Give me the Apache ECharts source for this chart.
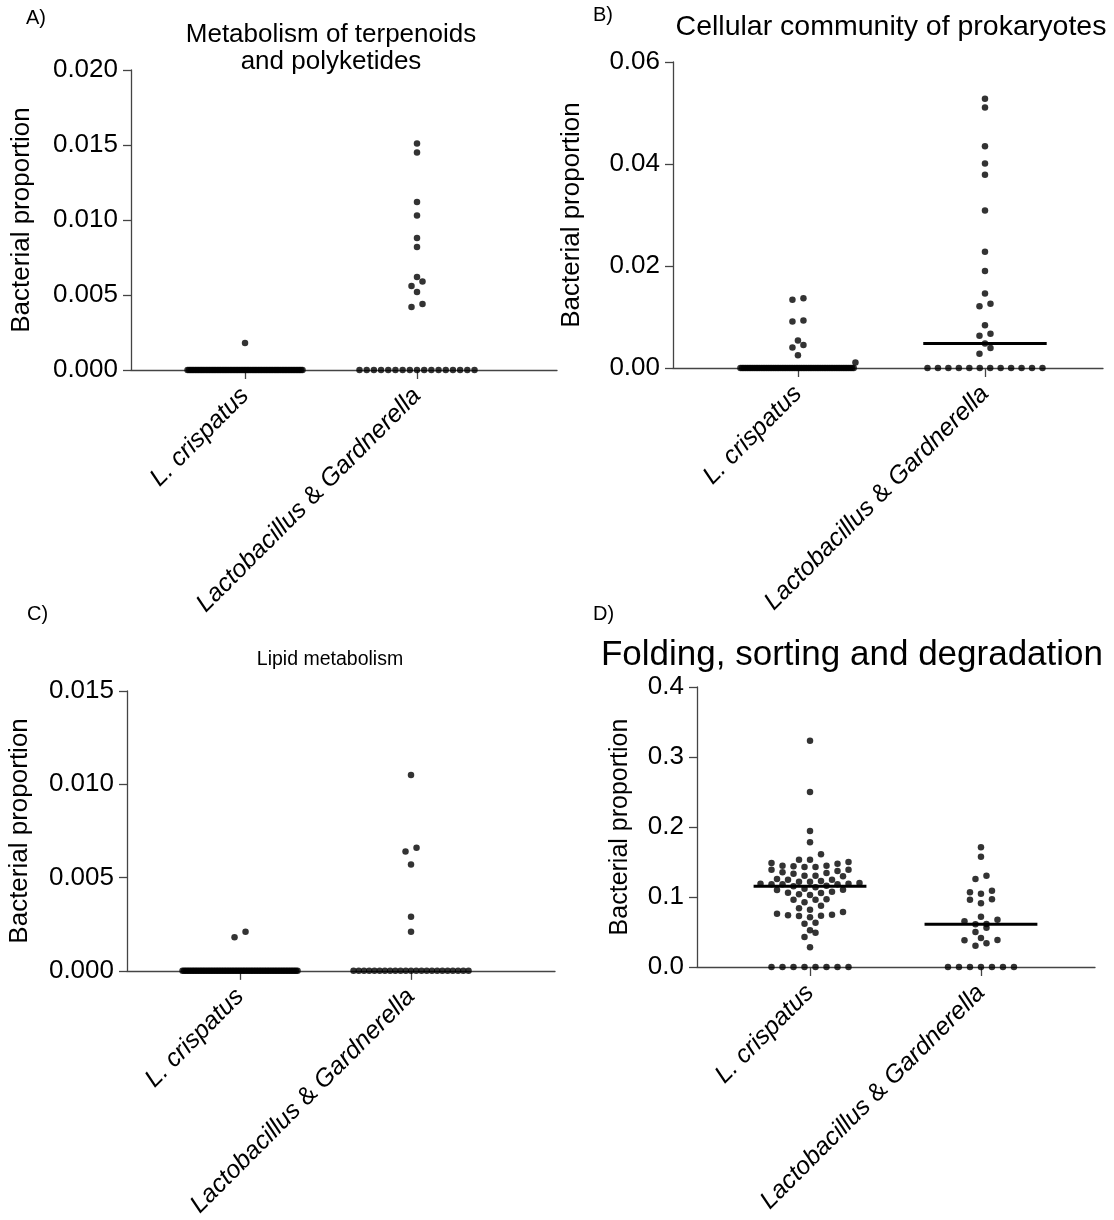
<!DOCTYPE html>
<html><head><meta charset="utf-8">
<script src="https://cdn.jsdelivr.net/npm/echarts@6/dist/echarts.min.js"></script>
<style>html,body{margin:0;padding:0;background:#fff}#c{width:1114px;height:1220px}</style>
</head><body><div id="c"></div>
<script>
// ---------------- DATA ----------------
const categories = ['L. crispatus', 'Lactobacillus & Gardnerella'];
const yAxisTitle = 'Bacterial proportion';
const panelLetters = ['A)', 'B)', 'C)', 'D)'];
const panelTitles = ['Metabolism of terpenoids\nand polyketides', 'Cellular community of prokaryotes', 'Lipid metabolism', 'Folding, sorting and degradation'];

// y axis scales (max, step, decimals of tick labels)
const yMaxes = [0.020, 0.06, 0.015, 0.4];
const ySteps = [0.005, 0.02, 0.005, 0.1];
const yDecimals = [3, 2, 3, 1];

// A) Metabolism of terpenoids and polyketides
const terpCrispatus = [0.0018,
  0,0,0,0,0,0,0,0,0,0, 0,0,0,0,0,0,0,0,0,0, 0,0,0,0,0,0,0,0,0,0, 0,0,0,0,0,0,0,0,0,0,
  0,0,0,0,0,0,0,0,0,0, 0,0,0,0,0,0,0,0,0,0, 0,0,0,0,0,0,0,0,0,0, 0,0,0,0];
const terpLG = [0.0151, 0.0145, 0.0112, 0.0103, 0.0088, 0.0082, 0.0062, 0.0059, 0.0056, 0.0052, 0.0044, 0.0042,
  0,0,0,0,0,0,0,0,0,0, 0,0,0,0,0,0,0];

// B) Cellular community of prokaryotes
const cellCrispatus = [0.0137, 0.0134, 0.0093, 0.0091, 0.0054, 0.0045, 0.0040, 0.0025, 0.0011,
  0,0,0,0,0,0,0,0,0,0, 0,0,0,0,0,0,0,0,0,0, 0,0,0,0,0,0,0,0,0,0, 0,0,0,0,0,0,0,0,0,0,
  0,0,0,0,0,0,0,0,0,0, 0,0,0,0,0,0,0,0,0,0, 0,0,0,0,0,0];
const cellLG = [0.0528, 0.0511, 0.0435, 0.0401, 0.0379, 0.0309, 0.0228, 0.0190, 0.0146, 0.0126, 0.0121,
  0.0084, 0.0067, 0.0063, 0.0048, 0.0039, 0.0028,
  0,0,0,0,0,0,0,0,0,0, 0,0];

// C) Lipid metabolism
const lipidCrispatus = [0.0021, 0.0018,
  0,0,0,0,0,0,0,0,0,0, 0,0,0,0,0,0,0,0,0,0, 0,0,0,0,0,0,0,0,0,0, 0,0,0,0,0,0,0,0,0,0,
  0,0,0,0,0,0,0,0,0,0, 0,0,0,0,0,0,0,0,0,0, 0,0,0,0,0,0,0,0,0,0, 0,0,0];
const lipidLG = [0.0105, 0.0066, 0.0064, 0.0057, 0.0029, 0.0021,
  0,0,0,0,0,0,0,0,0,0, 0,0,0,0,0,0,0,0,0,0, 0,0,0];

// D) Folding, sorting and degradation
const foldCrispatus = [0.3233, 0.2500, 0.1943, 0.1781, 0.1610,
  0.1229, 0.1138,
  0.1500, 0.1390, 0.1305, 0.1219, 0.1181, 0.1057, 0.0738,
  0.1486, 0.1390, 0.1305, 0.1219, 0.1105, 0.0967,
  0.1533, 0.1448, 0.1352, 0.1200, 0.1076, 0.0962, 0.0838, 0.0729,
  0.1533, 0.1438, 0.1295, 0.1190, 0.1119, 0.0876, 0.0819, 0.0786, 0.0619, 0.0524, 0.0429,
  0.1429, 0.1190, 0.1029, 0.0924, 0.0710, 0.0633, 0.0490,
  0.1448, 0.1371, 0.1181, 0.1100, 0.0962, 0.0748,
  0.1429, 0.1333, 0.1248, 0.1181, 0.1038, 0.0733,
  0.1476, 0.1343, 0.1248, 0.1162, 0.1062, 0.0762,
  0.1257, 0.1152,
  0.0281,
  0,0,0,0,0,0,0,0];
const foldLG = [0.1710, 0.1576, 0.1305, 0.1257, 0.1067, 0.1048, 0.1090, 0.0967, 0.0910, 0.0962,
  0.0719, 0.0676, 0.0614, 0.0610, 0.0652, 0.0562, 0.0500, 0.0414, 0.0386, 0.0381, 0.0338, 0.0305,
  0,0,0,0,0,0,0];

const groupValues = [
  [terpCrispatus, terpLG],
  [cellCrispatus, cellLG],
  [lipidCrispatus, lipidLG],
  [foldCrispatus, foldLG]
];

// ---------------- LAYOUT ----------------
const FONT = '"Liberation Sans", Arial, Helvetica, sans-serif';
const layout = [
  {grid: {left: 131, top: 70, width: 426, height: 300}, xMin: 0.337, xMax: 2.814, nameGap: 96,
   letter: [26, 8, 20], title: [331, 21, 26, 27], nameSize: 26},
  {grid: {left: 673, top: 62, width: 430, height: 306}, xMin: 0.332, xMax: 2.631, nameGap: 88,
   letter: [593, 5, 20], title: [891, 12, 28.5, 31], nameSize: 26},
  {grid: {left: 127, top: 691, width: 428, height: 280}, xMin: 0.339, xMax: 2.842, nameGap: 94,
   letter: [27, 604, 20], title: [330, 648, 19.5, 24], nameSize: 26},
  {grid: {left: 697, top: 687, width: 398, height: 280}, xMin: 0.339, xMax: 2.667, nameGap: 64,
   letter: [593, 604, 20], title: [852, 636, 35, 38], nameSize: 25}
];
const DOT = 6.5, BIN_H = 6, SPACING = 11, MAX_W = 115, MEDIAN_HALF = 0.33;

function median(arr) {
  const s = arr.slice().sort((a, b) => a - b);
  const n = s.length;
  return n % 2 ? s[(n - 1) / 2] : (s[n / 2 - 1] + s[n / 2]) / 2;
}

// beeswarm-style layout: bin values by dot height, spread horizontally
function swarm(values, center, pxPerY, pxPerX) {
  const sorted = values.slice().sort((a, b) => a - b);
  const bins = [];
  let cur = null;
  for (const v of sorted) {
    if (cur && (v - cur.start) * pxPerY < BIN_H) cur.items.push(v);
    else { cur = {start: v, items: [v]}; bins.push(cur); }
  }
  const out = [];
  for (const b of bins) {
    const k = b.items.length;
    let sp = SPACING;
    if (k > 1 && (k - 1) * sp > MAX_W) sp = MAX_W / (k - 1);
    const pos = [];
    for (let i = 0; i < k; i++) pos.push((i - (k - 1) / 2) * sp);
    const order = pos.slice().sort((a, c) => Math.abs(a) - Math.abs(c) || a - c);
    b.items.forEach((v, i) => out.push([center + order[i] / pxPerX, v]));
  }
  return out;
}

const grids = [], xAxes = [], yAxes = [], series = [], graphics = [];
const axisColor = '#444';

layout.forEach((L, p) => {
  grids.push(Object.assign({containLabel: false}, L.grid));
  const pxPerY = L.grid.height / yMaxes[p];
  const pxPerX = L.grid.width / (L.xMax - L.xMin);
  xAxes.push({
    type: 'value', gridIndex: p, min: L.xMin, max: L.xMax,
    splitLine: {show: false},
    axisLine: {show: true, onZero: false, lineStyle: {color: axisColor, width: 1.3}},
    axisTick: {show: true, customValues: [1, 2], length: 9, lineStyle: {color: axisColor, width: 1.3}},
    axisLabel: {
      customValues: [1, 2], rotate: 45, margin: 22, color: '#000', fontSize: 25, fontFamily: FONT,
      formatter: v => v === 1 ? '{i|' + categories[0] + '}' : '{i|Lactobacillus} & {i|Gardnerella}',
      rich: {i: {fontStyle: 'italic', fontSize: 25, fontFamily: FONT, color: '#000'}}
    }
  });
  yAxes.push({
    type: 'value', gridIndex: p, min: 0, max: yMaxes[p], interval: ySteps[p],
    splitLine: {show: false},
    axisLine: {show: true, onZero: false, lineStyle: {color: axisColor, width: 1.3}},
    axisTick: {show: true, length: 8, lineStyle: {color: axisColor, width: 1.3}},
    axisLabel: {color: '#000', fontSize: 26, fontFamily: FONT, margin: 13,
      formatter: v => v.toFixed(yDecimals[p])},
    name: yAxisTitle, nameLocation: 'middle', nameRotate: 90, nameGap: L.nameGap,
    nameTextStyle: {color: '#000', fontSize: L.nameSize, fontFamily: FONT}
  });
  groupValues[p].forEach((vals, g) => {
    const c = g + 1;
    series.push({
      type: 'scatter', xAxisIndex: p, yAxisIndex: p, symbol: 'circle', symbolSize: DOT,
      itemStyle: {color: '#000'}, silent: true, z: 3,
      data: swarm(vals, c, pxPerY, pxPerX)
    });
    const m = median(vals);
    if (m > 0) {
      series.push({
        type: 'line', xAxisIndex: p, yAxisIndex: p, symbol: 'none', silent: true, z: 4,
        lineStyle: {color: '#000', width: 3},
        data: [[c - MEDIAN_HALF, m], [c + MEDIAN_HALF, m]]
      });
    }
  });
  graphics.push({type: 'text', x: L.letter[0], y: L.letter[1],
    style: {text: panelLetters[p], fontSize: L.letter[2], fontFamily: FONT, fill: '#000'}});
  graphics.push({type: 'text', x: L.title[0], y: L.title[1],
    style: {text: panelTitles[p], fontSize: L.title[2], lineHeight: L.title[3], fontFamily: FONT, fill: '#000',
      align: 'center', verticalAlign: 'top'}});
});

const chart = echarts.init(document.getElementById('c'), null, {renderer: 'canvas'});
chart.setOption({
  backgroundColor: '#fff',
  animation: false,
  grid: grids, xAxis: xAxes, yAxis: yAxes, series: series, graphic: graphics
});
</script></body></html>
